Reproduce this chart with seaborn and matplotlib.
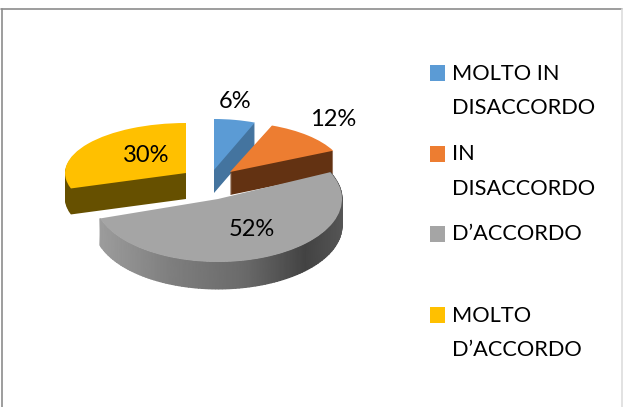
import numpy as np
import seaborn as sns
import matplotlib.pyplot as plt
from matplotlib.colors import LinearSegmentedColormap
from matplotlib.transforms import Affine2D

# chart data
categories = ["MOLTO IN\nDISACCORDO", "IN\nDISACCORDO", "D’ACCORDO", "MOLTO\nD’ACCORDO"]
values = [6, 12, 52, 30]
top_colors = ["#5B9BD5", "#ED7D31", "#A5A5A5", "#FFC000"]
side_colors = ["#44749F", "#633212", "#6E6E6E", "#665000"]

# layout of the exploded 3D look, in pixels
apex_x = [214, 230, 218, 186]
apex_y = [170, 172, 199, 173]
radius_x = [111, 114, 124, 121]
radius_y = [51, 50, 63, 50]
depth = [23, 23, 27, 26]
label_x = [235, 333, 252, 146]
label_y = [100, 118, 228, 155]
legend_y = [73, 154, 234, 315]

sns.set_theme(style="white")
plt.rcParams["font.family"] = ["Lato", "DejaVu Sans"]

fig, ax = plt.subplots(figsize=(6.23, 4.07), dpi=100)
ax.set_position([0, 0, 1, 1])


def draw_slice(i, drop, color, zorder):
    # one pie per layer, only slice i is kept and squashed into an ellipse
    wedges, _ = ax.pie(values, startangle=90, counterclock=False, radius=1,
                       wedgeprops={"linewidth": 0})
    for j, w in enumerate(wedges):
        if j != i:
            w.remove()
    w = wedges[i]
    w.set_facecolor(color)
    w.set_zorder(zorder)
    w.set_transform(Affine2D().scale(radius_x[i], -radius_y[i])
                    .translate(apex_x[i], apex_y[i] + drop) + ax.transData)


# back slices: stack darker layers, then the coloured top
for i in [3, 0, 1]:
    for k in range(depth[i], 0, -1):
        draw_slice(i, k, side_colors[i], 1)
    draw_slice(i, 0, top_colors[i], 1)

# big front slice: shaded rim
g = 2
start = np.deg2rad(sum(values[:g]) * 3.6)
stop = np.deg2rad(sum(values[:g + 1]) * 3.6)
t = np.linspace(start, stop, 120)
rim_x = apex_x[g] + radius_x[g] * np.sin(t)
rim_y = apex_y[g] - radius_y[g] * np.cos(t)
X = np.vstack([rim_x, rim_x])
Y = np.vstack([rim_y, rim_y + depth[g]])
C = np.vstack([rim_x, rim_x])
rim_cmap = LinearSegmentedColormap.from_list(
    "rim", [(0, "#9C9C9C"), (0.3, "#7E7E7E"), (0.6, "#6A6A6A"), (0.85, "#434343"), (1, "#555555")])
ax.pcolormesh(X, Y, C, cmap=rim_cmap, shading="gouraud", zorder=2)
draw_slice(g, 0, top_colors[g], 3)

for v, x, y in zip(values, label_x, label_y):
    ax.text(x, y + 1, f"{v}%", fontsize=17, color="#000000", ha="center", va="center", zorder=5)

# legend
sns.scatterplot(x=[437.5] * 4, y=legend_y, hue=categories, palette=top_colors, marker="s",
                s=125, linewidth=0, legend=False, ax=ax, zorder=5)
for name, y in zip(categories, legend_y):
    ax.text(452, y - 9.5, name, fontsize=15.7, color="#000000", ha="left", va="top",
            linespacing=1.88, zorder=5)

# chart border
ax.plot([1.5, 1.5], [8.5, 407], color="#8C8C8C", lw=1.2)
ax.plot([1, 622], [8.5, 8.5], color="#8C8C8C", lw=1.2)
ax.plot([622, 622], [8.5, 407], color="#DDDDDD", lw=1.2)

ax.set_aspect("auto")
ax.set_xlim(0, 623)
ax.set_ylim(407, 0)
ax.axis("off")

fig.savefig("out.png", dpi=100)
